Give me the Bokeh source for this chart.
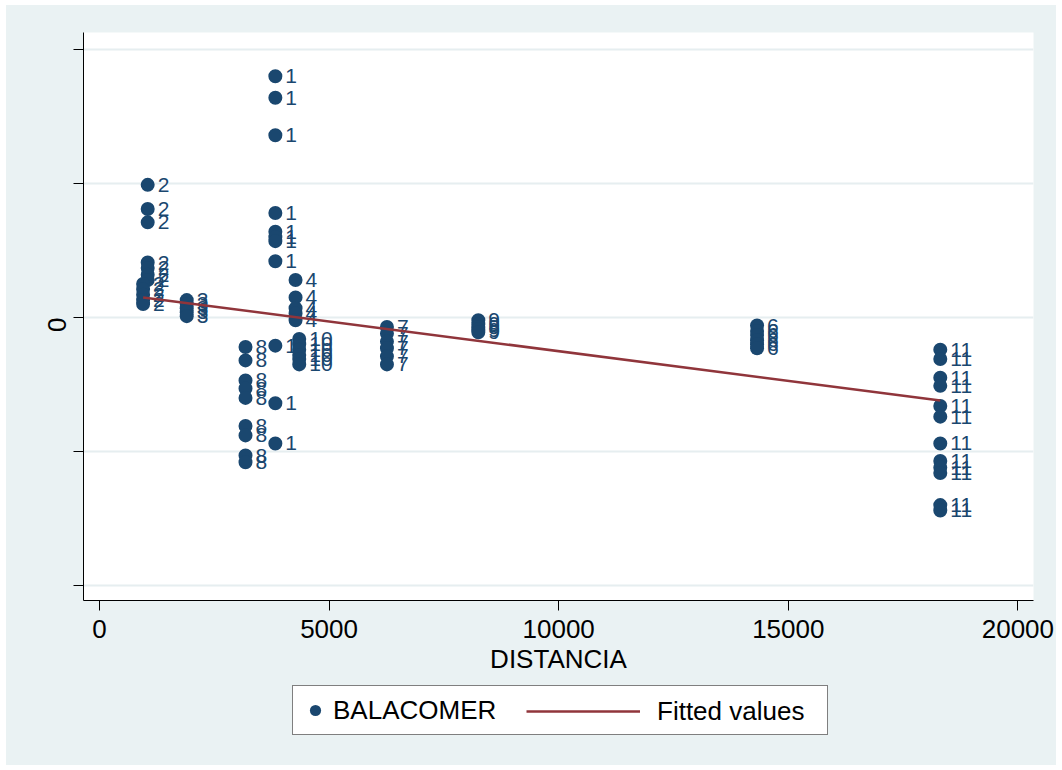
import math
from bokeh.plotting import figure
from bokeh.layouts import column
from bokeh.models import Range1d, FixedTicker, Legend, LegendItem, ColumnDataSource
from bokeh.core.properties import value
from bokeh.embed import file_html
from bokeh.resources import INLINE

# ---- data ----
x_tick_values = [0, 5000, 10000, 15000, 20000]
x_tick_labels = ["0", "5000", "10000", "15000", "20000"]
y_tick_values = [-2, -1, 0, 1, 2]
y_tick_labels = ["", "", "0", "", ""]

dist_g2 = [1050, 1050, 1050, 1050, 1050, 1050, 1050, 950, 950, 950, 950, 950]
bal_g2 = [0.99, 0.81, 0.71, 0.41, 0.37, 0.32, 0.28, 0.25, 0.21, 0.17, 0.13, 0.10]
dist_g3 = [1900, 1900, 1900, 1900, 1900]
bal_g3 = [0.13, 0.10, 0.07, 0.04, 0.01]
dist_g1 = [3830, 3830, 3830, 3830, 3830, 3830, 3830, 3830, 3830, 3830, 3830]
bal_g1 = [1.80, 1.64, 1.36, 0.78, 0.64, 0.60, 0.57, 0.42, -0.21, -0.64, -0.94]
dist_g8 = [3180, 3180, 3180, 3180, 3180, 3180, 3180, 3180, 3180]
bal_g8 = [-0.22, -0.32, -0.47, -0.53, -0.60, -0.81, -0.88, -1.03, -1.08]
dist_g4 = [4270, 4270, 4270, 4270, 4270]
bal_g4 = [0.28, 0.15, 0.07, 0.03, -0.02]
dist_g10 = [4350, 4350, 4350, 4350, 4350, 4350]
bal_g10 = [-0.16, -0.20, -0.24, -0.28, -0.31, -0.35]
dist_g7 = [6260, 6260, 6260, 6260, 6260, 6260]
bal_g7 = [-0.07, -0.12, -0.18, -0.23, -0.29, -0.35]
dist_g9 = [8250, 8250, 8250, 8250, 8250]
bal_g9 = [-0.02, -0.05, -0.07, -0.09, -0.11]
dist_g6 = [14320, 14320, 14320, 14320, 14320, 14320]
bal_g6 = [-0.06, -0.10, -0.13, -0.17, -0.20, -0.23]
dist_g11 = [18310, 18310, 18310, 18310, 18310, 18310, 18310, 18310, 18310, 18310, 18310, 18310]
bal_g11 = [-0.24, -0.31, -0.45, -0.51, -0.66, -0.74, -0.94, -1.07, -1.12, -1.16, -1.40, -1.44]

fit_dist = [950, 18310]
fit_vals = [0.15, -0.62]

# ---- assemble ----
groups = [
    ("2", dist_g2, bal_g2), ("3", dist_g3, bal_g3), ("1", dist_g1, bal_g1),
    ("8", dist_g8, bal_g8), ("4", dist_g4, bal_g4), ("10", dist_g10, bal_g10),
    ("7", dist_g7, bal_g7), ("9", dist_g9, bal_g9), ("6", dist_g6, bal_g6),
    ("11", dist_g11, bal_g11),
]
xs, ys, labs = [], [], []
for name, dx, dy in groups:
    xs += dx
    ys += dy
    labs += [name] * len(dx)
src = ColumnDataSource(dict(x=xs, y=ys, lab=labs))

NAVY = "#1a476f"
MAROON = "#90353b"
BG = "#eaf2f3"
FONT = "Liberation Sans"

p = figure(width=1050, height=675,
           x_range=Range1d(-348, 20340), y_range=Range1d(-2.112, 2.127),
           output_backend="svg", toolbar_location=None,
           min_border_left=77, min_border_right=23, min_border_top=27,
           min_border_bottom=80,
           background_fill_color="white", border_fill_color=BG,
           outline_line_color=None)

sc = p.scatter(x="x", y="y", source=src, size=14, fill_color=NAVY, line_color=None)
p.text(x="x", y="y", text="lab", source=src, x_offset=10,
       text_baseline="middle", text_align="left",
       text_font=value(FONT), text_font_size="21px", text_color=NAVY)
ln = p.line(fit_dist, fit_vals, line_color=MAROON, line_width=2.5)

# axes
p.xaxis.ticker = FixedTicker(ticks=x_tick_values)
p.xaxis.major_label_overrides = {v: l for v, l in zip(x_tick_values, x_tick_labels)}
p.yaxis.ticker = FixedTicker(ticks=y_tick_values)
p.yaxis.major_label_overrides = {v: l for v, l in zip(y_tick_values, y_tick_labels)}
p.yaxis.major_label_orientation = math.pi / 2
p.xaxis.axis_label = "DISTANCIA"

for ax in (p.xaxis[0], p.yaxis[0]):
    ax.axis_line_color = "black"
    ax.axis_line_width = 1
    ax.major_tick_line_color = "black"
    ax.major_tick_out = 10
    ax.major_tick_in = 0
    ax.minor_tick_line_color = None
    ax.major_label_text_font = FONT
    ax.major_label_text_font_size = "26px"
    ax.major_label_text_color = "black"
    ax.axis_label_text_font = FONT
    ax.axis_label_text_font_size = "26px"
    ax.axis_label_text_font_style = "normal"
    ax.axis_label_text_color = "black"
p.xaxis.major_label_standoff = 9
p.xaxis.axis_label_standoff = 3
p.yaxis.major_label_standoff = 16

p.xgrid.visible = False
p.ygrid.ticker = FixedTicker(ticks=y_tick_values)
p.ygrid.grid_line_color = "#e6eef0"
p.ygrid.grid_line_width = 2

# legend strip (separate small figure so the legend can sit below the axis)
p2 = figure(width=1050, height=85, x_range=Range1d(0, 1), y_range=Range1d(0, 1),
            output_backend="svg", toolbar_location=None, min_border=0,
            background_fill_color=BG, border_fill_color=BG,
            outline_line_color=None)
p2.axis.visible = False
p2.grid.visible = False
# legend-only renderers (their single point lies outside this strip's range)
leg_sc = p2.scatter(x=[-5], y=[-5], size=14, fill_color=NAVY, line_color=None)
leg_ln = p2.line(x=[-5, -4], y=[-5, -5], line_color=MAROON, line_width=2.5)

legA = Legend(items=[LegendItem(label="BALACOMER", renderers=[leg_sc])],
              location=(209, 30), orientation="horizontal",
              glyph_width=28, glyph_height=32, padding=8, label_standoff=4,
              label_width=486, label_height=32, margin=0,
              border_line_color="black", border_line_width=1,
              background_fill_color="white", background_fill_alpha=1,
              label_text_font=FONT, label_text_font_size="26px",
              label_text_color="black")
legB = Legend(items=[LegendItem(label="Fitted values", renderers=[leg_ln])],
              location=(443, 38), orientation="horizontal",
              glyph_width=114, glyph_height=32, padding=8, label_standoff=17,
              label_height=32,
              margin=0, border_line_color=None, background_fill_alpha=0,
              label_text_font=FONT, label_text_font_size="26px",
              label_text_color="black")
p2.add_layout(legA)
p2.add_layout(legB)

layout = column(p, p2, spacing=0, margin=(5, 0, 0, 6),
                styles={"background-color": BG})
open("out.html", "w").write(file_html(layout, INLINE))
